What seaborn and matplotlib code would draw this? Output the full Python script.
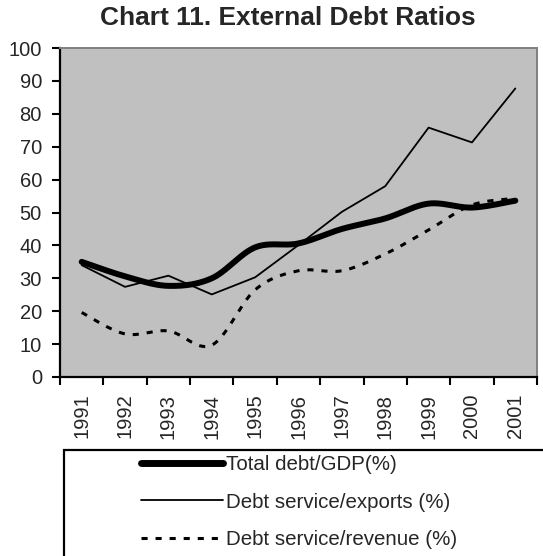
import numpy as np
import pandas as pd
import matplotlib
matplotlib.use("Agg")
import matplotlib.pyplot as plt
from matplotlib.lines import Line2D
from matplotlib.patches import Rectangle
import seaborn as sns

years = ["1991", "1992", "1993", "1994", "1995", "1996",
         "1997", "1998", "1999", "2000", "2001"]
debt_gdp = [35.0, 30.6, 27.7, 30.0, 39.4, 40.6, 45.0, 48.2, 52.7, 51.5, 53.6]
service_exports = [34.0, 27.4, 30.8, 25.1, 30.3, 40.1, 50.2, 58.0, 75.8, 71.3, 87.7]
service_revenue = [19.6, 13.1, 14.0, 9.7, 26.5, 32.3, 32.3, 37.4, 44.7, 52.3, 54.3]

labels = ["Total debt/GDP(%)", "Debt service/exports (%)", "Debt service/revenue (%)"]

DASH = (0, (2.0, 2.6))


def smooth(y, n=30):
    """Catmull-Rom curve through the points (spreadsheet-style smoothed line)."""
    y = np.asarray(y, dtype=float)
    x = np.arange(len(y), dtype=float)
    px = np.concatenate([[x[0]], x, [x[-1]]])
    py = np.concatenate([[y[0]], y, [y[-1]]])
    xs, ys = [], []
    t = np.linspace(0, 1, n, endpoint=False)
    for i in range(1, len(px) - 2):
        for P, out in ((px, xs), (py, ys)):
            p0, p1, p2, p3 = P[i - 1], P[i], P[i + 1], P[i + 2]
            out.extend(0.5 * ((2 * p1) + (-p0 + p2) * t
                              + (2 * p0 - 5 * p1 + 4 * p2 - p3) * t ** 2
                              + (-p0 + 3 * p1 - 3 * p2 + p3) * t ** 3))
    xs.append(x[-1])
    ys.append(y[-1])
    return np.array(xs), np.array(ys)


sns.set_style("white")
plt.rcParams["font.family"] = ["Liberation Sans", "DejaVu Sans"]

fig = plt.figure(figsize=(5.43, 5.56), dpi=100)
W, H = 543, 556
ax = fig.add_axes([60 / W, 1 - 377 / H, 477 / W, 329 / H])
ax.set_facecolor("#C0C0C0")

gx, gy = smooth(debt_gdp)
sns.lineplot(x=gx, y=gy, ax=ax, color="black", linewidth=4.3,
             solid_capstyle="round", sort=False, estimator=None)
sns.lineplot(x=np.arange(len(years)), y=service_exports, ax=ax, color="black",
             linewidth=1.3, sort=False, estimator=None)
rx, ry = smooth(service_revenue)
sns.lineplot(x=rx, y=ry, ax=ax, color="black", linewidth=2.2,
             linestyle=DASH, dash_capstyle="butt", sort=False, estimator=None)

ax.set_xlim(-0.5, len(years) - 0.5)
ax.set_ylim(0, 100)
ax.set_yticks(np.arange(0, 101, 10))
ax.set_xticks(np.arange(len(years)))
ax.set_xticklabels(years, rotation=90)
ax.set_xticks(np.arange(-0.5, len(years), 1.0), minor=True)
ax.tick_params(axis="x", which="major", length=0, pad=12, labelsize=14.5)
ax.tick_params(axis="x", which="minor", length=6, width=1.5, direction="out",
               bottom=True, color="black")
ax.tick_params(axis="y", length=6, width=1.5, direction="out", left=True,
               pad=7, labelsize=14.5, color="black")
ax.set_xlabel("")
ax.set_ylabel("")

for side in ("left", "bottom"):
    ax.spines[side].set_color("black")
    ax.spines[side].set_linewidth(1.6)
for side in ("top", "right"):
    ax.spines[side].set_visible(True)
    ax.spines[side].set_color("#808080")
    ax.spines[side].set_linewidth(1.4)

fig.text(288 / W, 1 - 18 / H, "Chart 11. External Debt Ratios",
         ha="center", va="center", fontsize=18.9, fontweight="bold")

# Legend box running off the lower-right edge
fig.patches.append(Rectangle((64 / W, -0.05), 1.0, (H - 450) / H + 0.05,
                             transform=fig.transFigure, facecolor="white",
                             edgecolor="black", linewidth=1.6))

handles = [
    Line2D([], [], color="black", linewidth=5, solid_capstyle="round"),
    Line2D([], [], color="black", linewidth=1.3),
    Line2D([], [], color="black", linewidth=2.2, linestyle=DASH,
           dash_capstyle="butt"),
]
fig.legend(handles, labels, loc="upper left",
           bbox_to_anchor=(141 / W, 1 - 455 / H), frameon=False,
           fontsize=14.8, handlelength=4.0, handletextpad=0.15,
           labelspacing=0.9, borderpad=0, borderaxespad=0)

fig.savefig("out.png", dpi=100)
